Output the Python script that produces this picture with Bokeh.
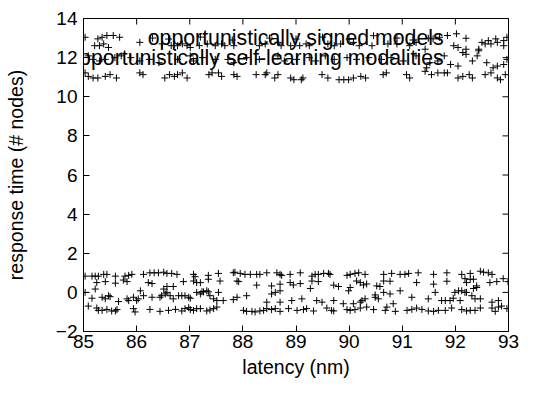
import math
from bokeh.plotting import figure
from bokeh.models import FixedTicker, Label, Range1d
from bokeh.embed import file_html
from bokeh.resources import INLINE

FONT = "Liberation Sans"

x_ticks = [85, 86, 87, 88, 89, 90, 91, 92, 93]
y_ticks = [-2, 0, 2, 4, 6, 8, 10, 12, 14]

series_labels = ["opportunistically signed models",
                 "opportunistically self-learning modalities"]

# upper band: "opportunistically signed models"
up_x = [85.03, 85.27, 85.35, 85.44, 85.56, 85.68, 91.49, 91.58, 91.70, 91.85, 92.02, 92.20, 92.50, 92.62, 92.76, 92.91, 92.97,
        86.30, 86.60, 87.20, 87.80, 88.50, 89.00, 89.50, 90.00, 90.46, 90.90, 91.20,
        85.21, 85.30, 85.38, 85.47, 86.06, 86.48, 86.65, 86.77, 86.86, 86.95, 87.01, 87.18, 87.33, 87.48, 87.60, 87.66, 87.83,
        88.31, 88.42, 88.66, 88.72, 88.90, 89.07, 89.19, 89.25, 89.60, 89.72, 89.84, 90.08, 90.19, 90.43, 90.73, 90.90, 91.14,
        91.26, 91.43, 91.97, 92.05, 92.20, 92.44, 92.56, 92.67, 92.79, 92.91,
        85.09, 85.18, 85.30, 85.41, 85.59, 85.71, 85.89, 86.06, 86.24, 86.42, 86.77, 87.01, 87.07, 87.24, 87.48, 87.72, 87.83,
        88.07, 88.31, 88.66, 88.78, 89.01, 89.25, 89.37, 89.55, 89.72, 89.96, 90.14, 90.37, 90.61, 90.79, 91.02, 91.26, 91.46,
        91.52, 91.67, 91.79, 91.91, 92.05, 92.14, 92.20, 92.32, 92.41, 92.44, 92.59, 92.71, 92.79, 92.91, 92.97,
        85.03, 85.09, 85.18, 85.27, 85.41, 85.50, 85.62, 86.06, 86.12, 86.53, 86.62, 86.71, 86.77, 86.86, 86.95, 87.36, 87.42,
        87.54, 87.60, 87.83, 87.89, 88.25, 88.42, 88.45, 88.60, 88.66, 88.90, 88.96, 89.10, 89.13, 89.49, 89.60, 89.81, 89.90,
        89.99, 90.08, 90.22, 90.31, 90.64, 90.70, 91.08, 91.14, 91.43, 91.55, 91.67, 91.79, 91.85, 92.05, 92.14, 92.26, 92.32,
        92.56, 92.67, 92.79, 92.85, 92.94]
up_y = [13.04, 12.96, 13.04, 13.13, 13.13, 13.04, 12.99, 12.96, 13.04, 13.13, 13.22, 12.99, 12.78, 12.87, 12.96, 12.87, 13.04,
        13.00, 12.95, 13.05, 12.90, 13.00, 12.95, 13.05, 12.95, 13.12, 13.00, 12.90,
        12.61, 12.61, 12.70, 12.52, 12.78, 12.70, 12.61, 12.61, 12.70, 12.61, 12.52, 12.61, 12.70, 12.61, 12.70, 12.61, 12.61,
        12.61, 12.70, 12.78, 12.61, 12.61, 12.61, 12.70, 12.61, 12.70, 12.61, 12.70, 12.78, 12.61, 12.61, 12.70, 12.70, 12.61,
        12.78, 12.43, 12.61, 12.52, 12.43, 12.43, 12.70, 12.70, 12.78, 12.61,
        12.09, 11.91, 11.83, 11.91, 12.00, 12.09, 12.00, 11.83, 11.91, 11.74, 11.91, 12.09, 11.83, 12.00, 11.91, 11.91, 11.74,
        12.00, 11.91, 12.09, 11.83, 11.91, 12.00, 11.83, 12.09, 11.91, 12.00, 11.91, 12.00, 11.91, 12.00, 11.83, 12.09, 11.48,
        11.74, 11.83, 12.09, 11.65, 11.57, 12.26, 12.17, 11.83, 12.09, 12.35, 11.74, 11.48, 11.57, 11.65, 11.91,
        11.22, 11.04, 10.96, 10.96, 11.04, 11.13, 10.96, 11.22, 11.13, 10.96, 11.13, 11.04, 11.13, 11.22, 10.96, 11.13, 11.22,
        11.22, 11.04, 11.13, 11.04, 11.13, 11.13, 11.22, 10.96, 11.13, 10.96, 10.87, 10.87, 10.96, 11.13, 10.96, 10.87, 10.87,
        10.87, 10.96, 11.04, 10.96, 11.13, 11.22, 11.13, 10.96, 11.30, 11.13, 11.22, 11.22, 11.22, 10.96, 11.04, 11.13, 10.96,
        11.13, 11.22, 10.96, 10.87, 11.13]

# lower band: "opportunistically self-learning modalities"
lo_x = [85.03, 85.16, 85.22, 85.28, 85.38, 85.44, 85.60, 85.78, 85.85, 85.91, 86.13, 86.25, 86.33, 86.41, 86.51, 86.57, 86.66,
        86.76, 87.07, 87.10, 87.35, 87.54, 87.82, 87.85, 87.95, 88.04, 88.14, 88.26, 88.32, 88.45, 88.64, 88.70, 88.73, 88.89,
        89.08, 89.30, 89.36, 89.42, 89.52, 89.61, 89.64, 89.96, 90.02, 90.11, 90.18, 90.30, 90.65, 90.80, 90.96, 91.05, 91.12,
        91.30, 91.59, 91.84, 92.12, 92.28, 92.47, 92.53, 92.62, 92.69, 92.90, 92.99,
        85.25, 85.41, 85.60, 85.75, 85.82, 86.22, 86.29, 86.57, 86.69, 86.88, 87.07, 87.13, 87.20, 87.35, 87.57, 87.89, 87.92,
        88.26, 88.54, 88.70, 88.89, 88.95, 89.08, 89.30, 89.42, 89.71, 89.80, 90.14, 90.21, 90.27, 90.33, 90.52, 90.58, 90.65,
        90.77, 91.27, 91.59, 91.84, 92.18, 92.21, 92.28, 92.34, 92.40, 92.65, 92.78,
        85.03, 85.22, 86.07, 86.51, 86.57, 87.23, 87.26, 87.32, 87.35, 87.54, 88.54, 88.61, 88.70, 89.27, 89.99, 90.02, 90.49,
        90.65, 90.77, 90.96, 91.62, 91.99, 92.06, 92.12, 92.18, 92.21, 92.34, 92.40,
        85.16, 85.35, 85.41, 85.47, 85.50, 85.66, 85.82, 85.85, 85.94, 86.00, 86.03, 86.13, 86.29, 86.44, 86.47, 86.54, 86.63,
        86.69, 86.79, 86.85, 86.91, 86.98, 87.01, 87.13, 87.20, 87.38, 87.45, 87.51, 87.63, 87.82, 87.89, 88.07, 88.45, 88.70,
        88.92, 89.11, 89.39, 89.49, 89.71, 89.89, 90.08, 90.21, 90.24, 90.30, 90.49, 90.55, 90.83, 91.18, 91.49, 91.74, 91.81,
        91.90, 91.96, 92.09, 92.31, 92.37, 92.47, 92.69, 92.81,
        85.09, 85.25, 85.28, 85.35, 85.44, 85.53, 85.60, 85.63, 85.94, 85.97, 86.25, 86.44, 86.60, 86.73, 86.85, 86.91, 86.98,
        87.01, 87.07, 87.13, 87.20, 87.32, 87.38, 87.45, 87.51, 88.01, 88.07, 88.17, 88.23, 88.32, 88.39, 88.45, 88.54, 88.61,
        88.70, 88.86, 89.02, 89.14, 89.20, 89.33, 89.58, 89.67, 89.71, 89.96, 90.02, 90.11, 90.21, 90.33, 90.46, 90.68, 90.71,
        90.87, 91.09, 91.18, 91.27, 91.37, 91.49, 91.59, 91.68, 91.81, 91.93, 92.12, 92.21, 92.28, 92.37, 92.47, 92.69, 92.75,
        92.81, 92.87, 92.97]
lo_y = [0.83, 0.83, 0.83, 0.83, 0.92, 0.92, 0.83, 0.83, 0.87, 0.92, 0.92, 1.00, 1.00, 1.00, 1.03, 0.97, 0.97,
        0.92, 0.92, 0.80, 0.87, 0.97, 1.00, 1.03, 0.97, 0.92, 0.92, 0.92, 0.92, 1.00, 1.00, 0.92, 0.87, 0.92,
        1.00, 0.83, 0.92, 0.92, 0.97, 0.97, 0.92, 0.87, 0.92, 0.97, 1.00, 0.92, 0.92, 0.97, 0.92, 0.92, 0.97,
        1.00, 0.92, 1.00, 0.92, 0.97, 1.08, 1.03, 1.00, 0.92, 0.70, 0.55,
        0.50, 0.55, 0.47, 0.63, 0.55, 0.50, 0.45, 0.30, 0.30, 0.55, 0.58, 0.50, 0.50, 0.67, 0.58, 0.58, 0.55,
        0.37, 0.33, 0.42, 0.50, 0.38, 0.45, 0.58, 0.55, 0.37, 0.30, 0.58, 0.50, 0.38, 0.43, 0.33, 0.30, 0.58,
        0.57, 0.50, 0.42, 0.57, 0.70, 0.50, 0.67, 0.67, 0.33, 0.50, 0.55,
        0.00, 0.17, 0.08, 0.17, 0.00, 0.03, 0.03, 0.08, 0.03, 0.00, -0.08, 0.00, 0.08, 0.20, 0.08, 0.25, -0.13,
        0.00, -0.08, 0.08, 0.00, 0.00, 0.08, 0.08, 0.00, 0.00, 0.20, 0.25,
        -0.30, -0.25, -0.33, -0.17, -0.22, -0.47, -0.33, -0.42, -0.25, -0.42, -0.33, -0.17, -0.25, -0.25, -0.17, -0.08, -0.17,
        -0.33, -0.17, -0.17, -0.17, -0.25, -0.30, 0.00, -0.08, -0.17, -0.33, -0.42, -0.42, -0.37, -0.25, -0.17, -0.50, -0.50,
        -0.42, -0.33, -0.42, -0.50, -0.42, -0.58, -0.58, -0.50, -0.42, -0.33, -0.25, -0.33, -0.58, -0.25, -0.33, -0.42, -0.42,
        -0.42, -0.30, -0.42, -0.17, -0.33, -0.33, -0.50, -0.42,
        -0.70, -0.80, -0.92, -0.92, -0.87, -0.95, -0.95, -0.88, -0.83, -1.00, -0.87, -0.97, -0.92, -0.87, -0.95, -0.83, -0.78,
        -0.88, -0.92, -0.83, -0.83, -0.95, -0.90, -0.83, -0.75, -0.92, -0.97, -0.97, -1.00, -0.95, -0.92, -0.83, -0.88, -0.83,
        -0.97, -0.83, -0.92, -0.88, -0.83, -0.95, -0.80, -0.92, -0.95, -0.88, -0.92, -0.88, -0.80, -0.75, -0.88, -0.92, -0.75,
        -0.97, -0.92, -0.87, -0.80, -0.87, -0.95, -0.97, -0.92, -0.92, -0.80, -0.88, -0.95, -0.92, -0.92, -0.80, -0.80, -0.97,
        -0.75, -0.70, -0.83]

p = figure(width=536, height=380, output_backend="svg", toolbar_location=None,
           x_range=Range1d(85, 93), y_range=Range1d(-2, 14),
           min_border_left=83, min_border_right=28, min_border_top=18, min_border_bottom=48)
p.background_fill_color = "white"
p.border_fill_color = "white"
p.outline_line_color = "black"
p.outline_line_width = 1
p.xgrid.visible = False
p.ygrid.visible = False

p.scatter(up_x, up_y, marker="cross", size=7, line_color="black", line_width=1)
p.scatter(lo_x, lo_y, marker="cross", size=7, line_color="black", line_width=1)

# mirrored inward ticks on the top and right frame edges (half of each dash is clipped by the frame)
p.scatter(x_ticks, [y_ticks[-1]] * len(x_ticks), marker="dash", angle=math.pi / 2, size=12,
          line_color="black", line_width=1)
p.scatter([x_ticks[-1]] * len(y_ticks), y_ticks, marker="dash", size=12,
          line_color="black", line_width=1)

for ax in (p.xaxis[0], p.yaxis[0]):
    ax.major_tick_in = 6
    ax.major_tick_out = 0
    ax.minor_tick_line_color = None
    ax.major_tick_line_color = "black"
    ax.axis_line_color = "black"
    ax.major_label_text_font = FONT
    ax.major_label_text_font_size = "19px"
    ax.major_label_text_color = "black"
    ax.axis_label_text_font = FONT
    ax.axis_label_text_font_size = "19.5px"
    ax.axis_label_text_font_style = "normal"
    ax.axis_label_text_color = "black"

p.xaxis.ticker = FixedTicker(ticks=x_ticks)
p.yaxis.ticker = FixedTicker(ticks=y_ticks)
p.xaxis.axis_label = "latency (nm)"
p.yaxis.axis_label = "response time (# nodes)"
p.xaxis.major_label_standoff = 3
p.xaxis.axis_label_standoff = 5
p.yaxis.major_label_standoff = 6
p.yaxis.axis_label_standoff = 26

for lbl, yv in zip(series_labels, [13.02, 12.0]):
    p.add_layout(Label(x=91.78, y=yv, text=lbl, text_align="right", text_baseline="middle",
                       text_font=FONT, text_font_size="21.3px", text_color="black"))

open("out.html", "w").write(file_html(p, INLINE))
